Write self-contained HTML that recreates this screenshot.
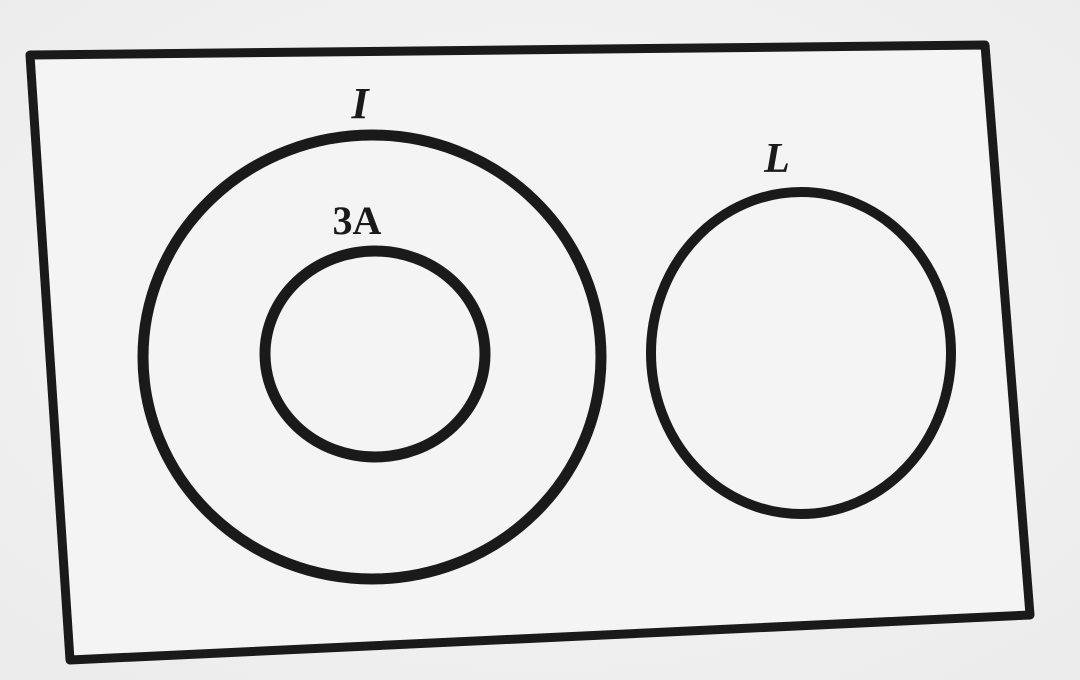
<!DOCTYPE html>
<html>
<head>
<meta charset="utf-8">
<style>
  html,body{margin:0;padding:0;background:#f2f2f2;}
  svg{display:block;}
  text{font-family:"Liberation Serif",serif;fill:#1a1a1a;}
</style>
</head>
<body>
<svg width="1080" height="680" viewBox="0 0 1080 680">
  <defs>
    <radialGradient id="bg" cx="50%" cy="45%" r="70%">
      <stop offset="0%" stop-color="#f7f7f7"/>
      <stop offset="100%" stop-color="#ececec"/>
    </radialGradient>
  </defs>
  <rect x="0" y="0" width="1080" height="680" fill="url(#bg)"/>
  <polygon points="30,55 985,45 1030,615 70,660" fill="#f4f4f4" stroke="#1a1a1a" stroke-width="9" stroke-linejoin="round"/>
  <ellipse cx="372" cy="357" rx="229" ry="222" fill="none" stroke="#1a1a1a" stroke-width="11"/>
  <ellipse cx="375" cy="354" rx="110" ry="103" fill="none" stroke="#1a1a1a" stroke-width="11"/>
  <ellipse cx="801" cy="353" rx="150" ry="161" fill="none" stroke="#1a1a1a" stroke-width="10"/>
  <text x="360" y="118" font-size="44" font-style="italic" font-weight="bold" text-anchor="middle">I</text>
  <text x="357" y="234" font-size="40" font-weight="bold" text-anchor="middle">3A</text>
  <text x="777" y="172" font-size="42" font-style="italic" font-weight="bold" text-anchor="middle">L</text>
</svg>
</body>
</html>
